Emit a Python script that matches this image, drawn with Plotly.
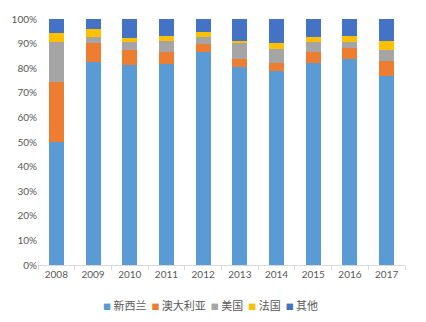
import plotly.graph_objects as go

years = ["2008", "2009", "2010", "2011", "2012", "2013", "2014", "2015", "2016", "2017"]
nz = [50.1, 82.6, 81.3, 81.7, 86.7, 80.4, 78.9, 82.0, 83.6, 76.8]
au = [24.4, 7.5, 6.1, 4.8, 3.0, 3.2, 3.3, 4.7, 4.5, 6.2]
us = [16.3, 2.5, 3.4, 4.7, 3.1, 6.8, 5.6, 3.8, 2.4, 4.4]
fr = [3.4, 3.3, 1.4, 1.9, 2.0, 0.8, 2.3, 2.3, 2.6, 3.7]
other = [5.8, 4.1, 7.8, 6.9, 5.2, 8.8, 9.9, 7.2, 6.9, 8.9]

names = ["新西兰", "澳大利亚", "美国", "法国", "其他"]
colors = ["#5B9BD5", "#ED7D31", "#A5A5A5", "#FFC000", "#4472C4"]
series = [nz, au, us, fr, other]

fig = go.Figure()
for name, color, vals in zip(names, colors, series):
    fig.add_trace(go.Bar(x=years, y=vals, name=name, marker_color=color,
                         marker_line_width=0))

# compact legend drawn as a single text line (colored squares + names)
legend_parts = []
for name, color in zip(names, colors):
    legend_parts.append(
        f"<span style='color:{color};font-size:8px'>■</span> {name}"
    )
legend_text = "  ".join(legend_parts)

font_family = "Lato, 'Noto Sans CJK SC', sans-serif"
fig.update_layout(
    barmode="stack",
    barnorm="percent",
    width=426, height=322,
    margin=dict(l=38, r=21, t=19, b=57),
    paper_bgcolor="white", plot_bgcolor="white",
    bargap=0.59,
    font=dict(family=font_family, size=10, color="#595959"),
    showlegend=False,
    xaxis=dict(type="category", showline=True, linecolor="#D9D9D9", linewidth=1,
               ticks="outside", tickson="boundaries", ticklen=4, tickcolor="#D9D9D9",
               showgrid=False, tickfont=dict(size=10, color="#595959")),
    yaxis=dict(range=[0, 100], dtick=10, ticksuffix="%", showgrid=False,
               showline=False, zeroline=False, tickfont=dict(size=10, color="#595959")),
    annotations=[dict(text=legend_text, xref="paper", yref="paper",
                      x=0.47, y=-0.163, xanchor="center", yanchor="middle",
                      showarrow=False,
                      font=dict(family="'Noto Sans CJK SC', sans-serif", size=11,
                                color="#595959"))],
)

fig.write_html("out.html")
